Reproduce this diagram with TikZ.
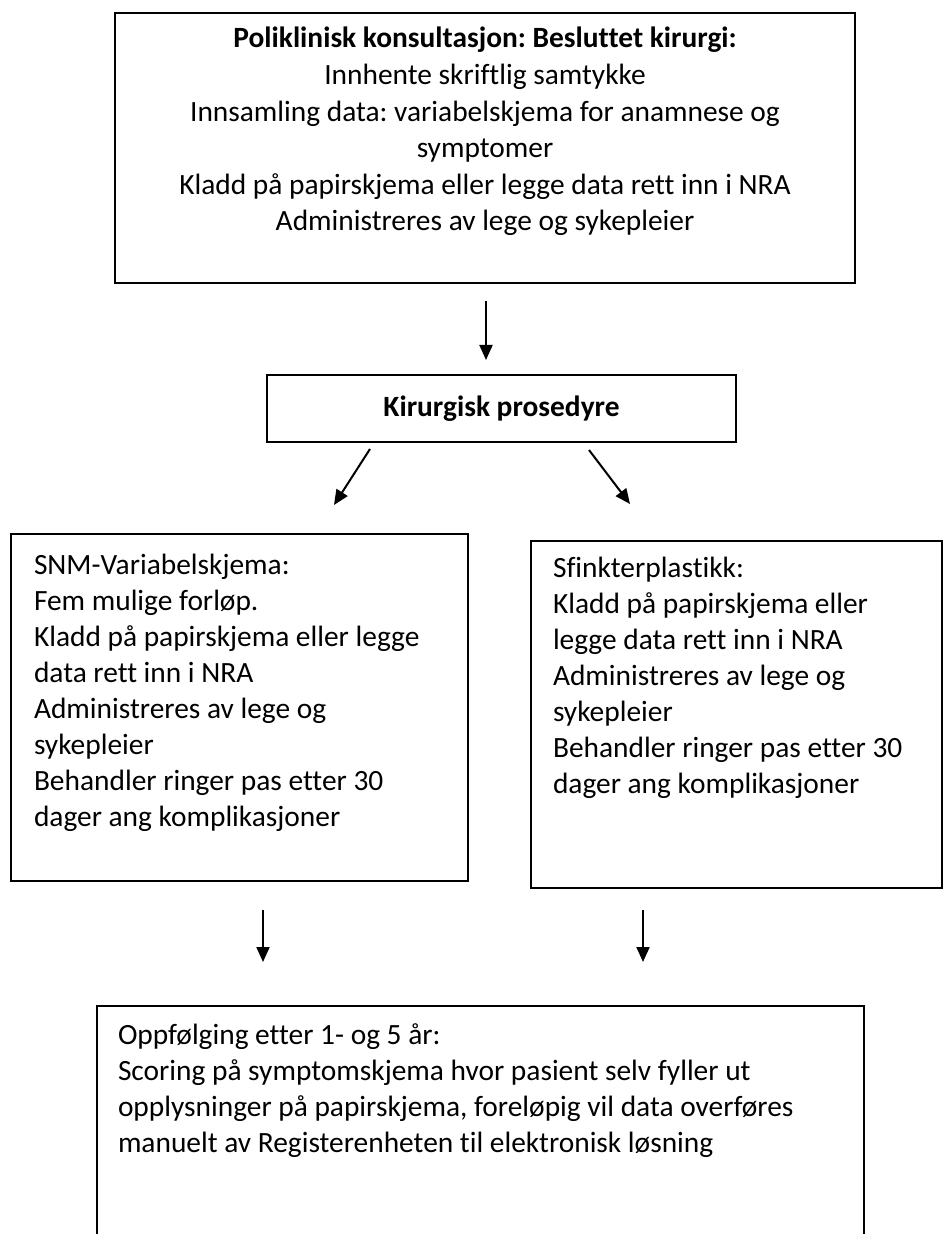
\documentclass[tikz,border=0pt]{standalone}
\usepackage{fontspec}
\setmainfont{Carlito}[Ligatures={NoCommon}]
\usetikzlibrary{arrows.meta,calc}
\frenchspacing

\begin{document}
\begin{tikzpicture}[x=0.5pt,y=-0.5pt]
	\tikzstyle{boks}=[draw,line width=1pt,inner sep=0pt,anchor=north west,font=\fontsize{14.7}{18}\selectfont]
	\tikzstyle{pil}=[-{Triangle[length=7.5pt,width=6.5pt]},line width=1pt]
	\useasboundingbox (0,0) rectangle (943,1234);
	\clip (0,0) rectangle (943,1234);
	% boksene
	\node[boks] (kons) at (114,12) {\parbox[t][135pt][t]{370pt}{\centering\fontsize{14.7}{18.3}\selectfont
		\rule{0pt}{17.5pt}\textbf{Poliklinisk konsultasjon: Besluttet kirurgi:}\\
		Innhente skriftlig samtykke\\
		Innsamling data: variabelskjema for anamnese og\\
		symptomer\\
		Kladd på papirskjema eller legge data rett inn i NRA\\
		Administreres av lege og sykepleier}};
	\node[boks,minimum width=234.5pt,minimum height=33.5pt,font=\fontsize{14.7}{18}\selectfont\bfseries] (kir) at (266,374) {Kirurgisk prosedyre};
	\node[boks,inner xsep=11.5pt] (snm) at (10,533) {\parbox[t][173.5pt][t]{205.5pt}{\raggedright
		\rule{0pt}{20pt}SNM-Variabelskjema:\\
		Fem mulige forløp.\\
		Kladd på papirskjema eller legge\\
		data rett inn i NRA\\
		Administreres av lege og\\
		sykepleier\\
		Behandler ringer pas etter 30\\
		dager ang komplikasjoner}};
	\node[boks,inner xsep=11pt] (sfink) at (530,540) {\parbox[t][173.5pt][t]{183.5pt}{\raggedright
		\rule{0pt}{18pt}Sfinkterplastikk:\\
		Kladd på papirskjema eller\\
		legge data rett inn i NRA\\
		Administreres av lege og\\
		sykepleier\\
		Behandler ringer pas etter 30\\
		dager ang komplikasjoner}};
	\node[boks,inner xsep=10.5pt] (oppf) at (96,1005) {\parbox[t][147.5pt][t]{362.5pt}{\raggedright
		\rule{0pt}{19pt}Oppfølging etter 1- og 5 år:\\
		Scoring på symptomskjema hvor pasient selv fyller ut\\
		opplysninger på papirskjema, foreløpig vil data overføres\\
		manuelt av Registerenheten til elektronisk løsning}};
	% pilene
	\draw[pil] ($(kons.south west)+(372,17)$) -- ($(kir.north west)+(220,-14)$);
	\draw[pil] ($(kir.south west)+(104,6)$) -- ($(snm.north west)+(324,-28)$);
	\draw[pil] ($(kir.south west)+(323,7)$) -- ($(sfink.north west)+(100,-36)$);
	\draw[pil] ($(snm.south west)+(253,28)$) -- ($(oppf.north west)+(167,-43)$);
	\draw[pil] ($(sfink.south west)+(113,21)$) -- ($(oppf.north west)+(547,-43)$);
\end{tikzpicture}
\end{document}
